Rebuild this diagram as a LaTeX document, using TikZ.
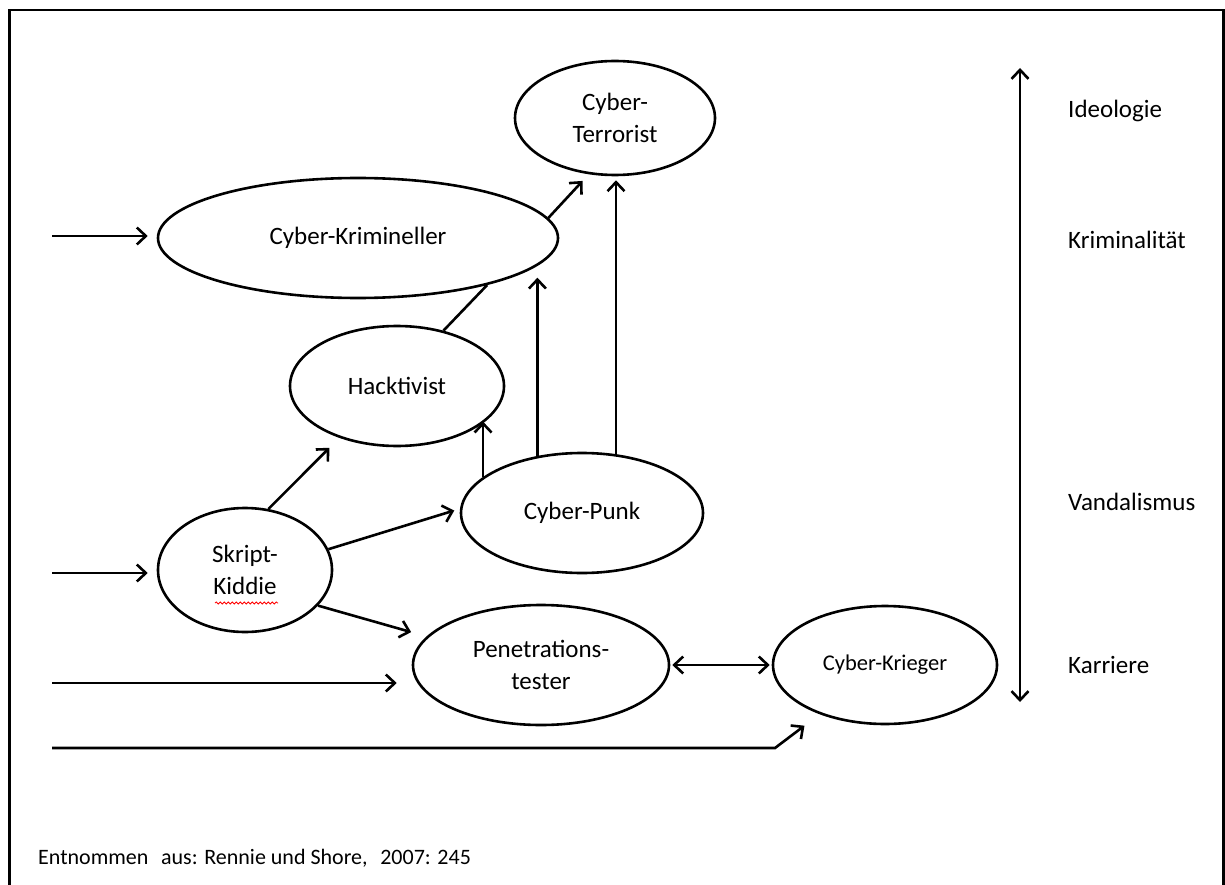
\documentclass[tikz,border=0pt]{standalone}
\usepackage{fontspec}
\setmainfont{Carlito}
\usetikzlibrary{shapes.geometric,arrows.meta,calc,decorations.pathmorphing}
\begin{document}
\begin{tikzpicture}[x=1pt,y=-1pt,
  every node/.style={font=\fontsize{25}{32}\selectfont},
  ell/.style={ellipse,draw,line width=2.6pt,inner sep=0pt,align=center},
  lbl/.style={anchor=west,inner sep=0pt},
  arr/.style={line width=2.6pt,-{Straight Barb[length=9pt,width=17pt,line width=2.6pt]}},
  darr/.style={line width=2.6pt,{Straight Barb[length=9pt,width=17pt,line width=2.6pt]}-{Straight Barb[length=9pt,width=17pt,line width=2.6pt]}},
  ln/.style={line width=2.6pt}]
\useasboundingbox (0,0) rectangle (1225,885);
\draw[line width=2.8pt] (9.5,885) -- (9.5,10) -- (1223.5,10) -- (1223.5,885);

\node[ell,minimum width=200pt,minimum height=114pt] (ct) at (615,118) {Cyber-\\Terrorist};
\node[ell,minimum width=400pt,minimum height=120pt] (km) at (358,238) {Cyber-Krimineller};
\node[ell,minimum width=214pt,minimum height=120pt] (hk) at (397,386) {Hacktivist};
\node[ell,minimum width=242pt,minimum height=120pt] (cp) at (582,513) {Cyber-Punk};
\node[ell,minimum width=174pt,minimum height=124pt] (sk) at (245,570) {Skript-\\Kiddie};
\node[ell,minimum width=256pt,minimum height=120pt] (pt) at (541,665) {Penetrations-\\tester};
\node[ell,minimum width=224pt,minimum height=118pt,font=\fontsize{22.5}{28}\selectfont] (kr) at (885,665) {Cyber-Krieger};

\draw[red,line width=0.8pt,decorate,decoration={snake,amplitude=1pt,segment length=4pt}] (215,603) -- (278,603);

% labels right
\node[lbl] (l1) at (1068,111) {Ideologie};
\node[lbl] (l2) at (1068,240) {Kriminalität};
\node[lbl] (l3) at (1068,502) {Vandalismus};
\node[lbl] (l4) at (1068,665) {Karriere};
\coordinate (vt) at (1020,68);
\coordinate (vb) at (1020,702);
\draw[darr] (vt) -- (vb);

% footnote
\node[lbl,font=\fontsize{22}{28}\selectfont] (fn) at (38,858) {Entnommen\hspace{0.35em} aus: Rennie und Shore,\hspace{0.35em} 2007: 245};

% inputs
\coordinate (in1) at (52,236);
\coordinate (in2) at (52,573);
\coordinate (in3) at (52,683);
\coordinate (in4) at (52,748);
\coordinate (bend) at (775,748);
\draw[arr,shorten >=9pt] (in1) -- (in1 -| km.west);
\draw[arr,shorten >=9pt] (in2) -- (in2 -| sk.west);
\draw[arr,shorten >=15pt] (in3) -- (in3 -| pt.west);
\draw[arr,shorten >=19pt] (in4) -- (bend) -- (kr.217.8);

% internal connectors
\draw[arr,shorten >=14pt] (sk.69) -- (hk.222);
\draw[arr,shorten >=6pt] (sk.14.5) -- (cp.178);
\draw[arr,shorten >=16pt] (sk.-26) -- (pt.166);
\draw[darr,shorten <=2pt,shorten >=2pt] (pt.east) -- (kr.west);
\draw[arr] (cp.160.8) -- (cp.160.8 |- hk.-22.5);
\draw[arr,shorten >=14pt] (cp.128.2) -- (cp.128.2 |- km.-8.3);
\draw[arr,shorten >=4pt] (cp.60.2) -- (cp.60.2 |- ct.south);
\draw[arr,shorten >=9pt] (km.6.9) -- (ct.245);
\draw[ln] (hk.50) -- (km.-20);
\end{tikzpicture}
\end{document}
